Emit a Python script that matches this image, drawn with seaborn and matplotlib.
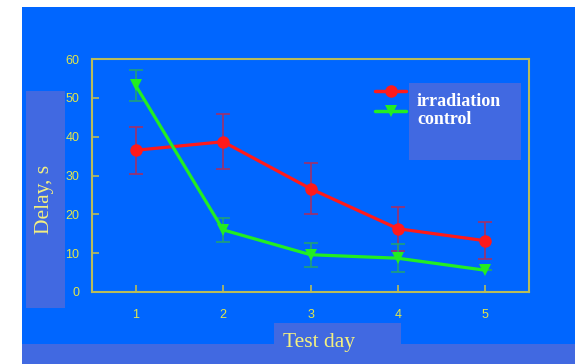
import matplotlib
matplotlib.use("Agg")
import matplotlib.pyplot as plt
from matplotlib.patches import Rectangle
from matplotlib.lines import Line2D
import seaborn as sns
import pandas as pd

days = [1, 2, 3, 4, 5]
irradiation = [36.5, 38.7, 26.6, 16.3, 13.2]
irradiation_err = [6.1, 7.1, 6.6, 5.7, 4.7]
control = [53.2, 16.0, 9.6, 8.7, 5.6]
control_err = [3.9, 3.0, 3.1, 3.6, 0.0]
series_names = ["irradiation", "control"]

W, H = 575, 364
BLUE = "#0066FF"
LIGHT = "#4169E1"
AXC = "#B8BC5A"
TICKC = "#E2E64A"

sns.set_theme(style="white")
fig = plt.figure(figsize=(W / 100, H / 100), dpi=100, facecolor="white")

def rect(x0, y0, x1, y1, color, z):
    fig.add_artist(Rectangle((x0 / W, 1 - y1 / H), (x1 - x0) / W, (y1 - y0) / H,
                             transform=fig.transFigure, facecolor=color,
                             edgecolor="none", zorder=z))

rect(22, 7, W, H, BLUE, 0)
rect(22, 344, W, H, LIGHT, 1)
rect(274, 323, 401, 344, LIGHT, 1)
rect(26, 91, 64.5, 308, LIGHT, 1)
rect(409, 83, 521, 160, LIGHT, 1)

ax = fig.add_axes([92 / W, 1 - 292 / H, (529 - 92) / W, (292 - 59) / H])
ax.set_facecolor("none")
ax.set_zorder(2)

df = pd.DataFrame({
    "day": days * 2,
    "value": irradiation + control,
    "series": [series_names[0]] * 5 + [series_names[1]] * 5,
})
palette = {"irradiation": "#FF1A1A", "control": "#22EE22"}
ax.errorbar(days, irradiation, yerr=irradiation_err, fmt="none", ecolor="#A0306A",
            elinewidth=1.2, capsize=5, capthick=1.2, zorder=1)
ax.errorbar(days, control, yerr=control_err, fmt="none", ecolor="#20A07A",
            elinewidth=1.2, capsize=5, capthick=1.2, zorder=1)
sns.lineplot(data=df, x="day", y="value", hue="series", style="series",
             markers={"irradiation": "o", "control": "v"}, dashes=False,
             palette=palette, linewidth=2.3, markersize=9, markeredgewidth=0,
             ax=ax, legend=False, zorder=3)

ax.set_xlim(0.5, 5.5)
ax.set_ylim(0, 60)
ax.set_xticks(days)
ax.set_yticks([0, 10, 20, 30, 40, 50, 60])
ax.tick_params(axis="both", direction="in", length=5, width=1.2, color=AXC,
               labelcolor=TICKC, labelsize=9, bottom=True, left=True)
ax.tick_params(axis="x", pad=12)
ax.tick_params(axis="y", pad=9)
for lab in ax.get_xticklabels() + ax.get_yticklabels():
    lab.set_fontfamily("Liberation Sans")
for s in ax.spines.values():
    s.set_color(AXC)
    s.set_linewidth(1.5)
ax.set_xlabel("")
ax.set_ylabel("")

fig.text(45 / W, 1 - 199 / H, "Delay, s", rotation=90, ha="center", va="center",
         color="#F4F080", fontsize=15.5, family="Liberation Serif", zorder=5)
fig.text(319 / W, 1 - 342 / H, "Test day", ha="center", va="center",
         color="#F4F080", fontsize=15.5, family="Liberation Serif", zorder=5)

# legend: handles sit just left of the label box, slightly above their labels
markers = {"irradiation": "o", "control": "v"}
for i, name in enumerate(series_names):
    hy = 1 - (91 + 19.5 * i) / H
    fig.add_artist(Line2D([375 / W, 406 / W], [hy, hy], transform=fig.transFigure,
                          color=palette[name], lw=2.5, zorder=6))
    fig.add_artist(Line2D([390.5 / W], [hy], transform=fig.transFigure,
                          color=palette[name], marker=markers[name], ms=9, mew=0,
                          lw=0, zorder=6))
    fig.text(417 / W, 1 - (101 + 19 * i) / H, name, ha="left", va="center",
             color="white", fontsize=13, weight="bold", family="Liberation Serif",
             zorder=6)

fig.savefig("out.png", dpi=100, facecolor="white")
